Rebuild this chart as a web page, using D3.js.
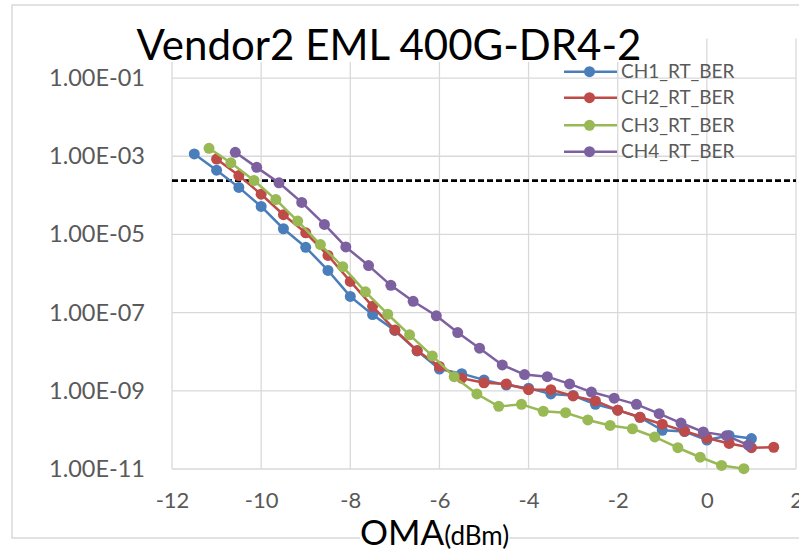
<!DOCTYPE html>
<html>
<head>
<meta charset="utf-8">
<script src="https://cdn.jsdelivr.net/npm/d3@7"></script>
<style>
  html, body { margin: 0; padding: 0; background: #fff; }
  svg { display: block; font-family: Lato, "Open Sans", sans-serif; }
</style>
</head>
<body>
<div id="chart"></div>
<script>
// OMA (dBm) / BER readings per channel
var ch1Oma = [-11.5, -11, -10.5, -10, -9.5, -9, -8.5, -8, -7.5, -7, -6.5, -6, -5.5, -5, -4.5, -4, -3.5, -3, -2.5, -2, -1.5, -1, -0.5, 0, 0.5, 1.0];
var ch1Ber = [1.15e-3, 4.4e-4, 1.6e-4, 5.2e-5, 1.4e-5, 4.7e-6, 1.2e-6, 2.6e-7, 8.9e-8, 3.5e-8, 1.05e-8, 3.6e-9, 2.75e-9, 1.9e-9, 1.4e-9, 1.17e-9, 8.3e-10, 7.6e-10, 4.5e-10, 3.2e-10, 2.1e-10, 9.8e-11, 9.1e-11, 5.5e-11, 7.2e-11, 6.0e-11];

var ch2Oma = [-11, -10.5, -10, -9.5, -9, -8.5, -8, -7.5, -7, -6.5, -6, -5.5, -5, -4.5, -4, -3.5, -3, -2.5, -2, -1.5, -1, -0.5, 0, 0.5, 1.0, 1.5];
var ch2Ber = [8.5e-4, 3.2e-4, 1.07e-4, 3.2e-5, 1.1e-5, 2.9e-6, 6.3e-7, 1.45e-7, 3.6e-8, 1.07e-8, 4.2e-9, 2.1e-9, 1.6e-9, 1.5e-9, 1.07e-9, 1.07e-9, 7.4e-10, 5.5e-10, 3.2e-10, 2.1e-10, 1.4e-10, 9.3e-11, 6.2e-11, 4.5e-11, 3.5e-11, 3.6e-11];

var ch3Oma = [-11.17, -10.68, -10.16, -9.67, -9.18, -8.67, -8.17, -7.66, -7.16, -6.67, -6.16, -5.67, -5.16, -4.67, -4.16, -3.67, -3.17, -2.67, -2.17, -1.67, -1.17, -0.65, -0.15, 0.33, 0.83];
var ch3Ber = [1.6e-3, 6.8e-4, 2.4e-4, 7.8e-5, 2.2e-5, 5.5e-6, 1.5e-6, 3.4e-7, 9.1e-8, 2.7e-8, 7.8e-9, 2.3e-9, 8.3e-10, 4.0e-10, 4.5e-10, 3.0e-10, 2.75e-10, 1.8e-10, 1.3e-10, 1.07e-10, 6.6e-11, 3.5e-11, 2.0e-11, 1.23e-11, 1.02e-11];

var ch4Oma = [-10.58, -10.10, -9.60, -9.09, -8.58, -8.10, -7.59, -7.09, -6.59, -6.07, -5.59, -5.10, -4.59, -4.09, -3.58, -3.08, -2.59, -2.08, -1.58, -1.07, -0.58, -0.08, 0.44, 0.93];
var ch4Ber = [1.26e-3, 5.2e-4, 2.1e-4, 6.6e-5, 1.8e-5, 4.8e-6, 1.6e-6, 5.0e-7, 1.95e-7, 8.3e-8, 3.1e-8, 1.23e-8, 4.6e-9, 2.6e-9, 2.3e-9, 1.5e-9, 9.3e-10, 6.5e-10, 4.5e-10, 2.6e-10, 1.5e-10, 8.9e-11, 7.1e-11, 4.1e-11];

var seriesNames = ['CH1_RT_BER', 'CH2_RT_BER', 'CH3_RT_BER', 'CH4_RT_BER'];
var seriesColors = ['#4a7ebb', '#be4b48', '#98b954', '#7d60a0'];

var xTicks = [-12, -10, -8, -6, -4, -2, 0, 2];
var yTicks = [1e-1, 1e-3, 1e-5, 1e-7, 1e-9, 1e-11];
var fecLimit = 2.4e-4;

var chartTitle = 'Vendor2 EML 400G-DR4-2';

(function () {
  'use strict';

  var width = 799, height = 555;
  var plot = { left: 172, right: 796, top: 38.5, bottom: 469 };

  var svg = d3.select('#chart').append('svg')
      .attr('width', width)
      .attr('height', height);

  var x = d3.scaleLinear().domain([-12, 2]).range([plot.left, plot.right]);
  var y = d3.scaleLog().domain([1e-11, 1]).range([plot.bottom, plot.top + 0.5]);

  // outer chart frame
  svg.append('rect')
      .attr('x', 12).attr('y', 5)
      .attr('width', 820).attr('height', 533)
      .attr('fill', 'none')
      .attr('stroke', '#d9d9d9')
      .attr('stroke-width', 1.5);

  // gridlines
  svg.append('g').selectAll('line').data(yTicks).enter().append('line')
      .attr('x1', plot.left).attr('x2', plot.right)
      .attr('y1', function (d) { return y(d); })
      .attr('y2', function (d) { return y(d); })
      .attr('stroke', '#d9d9d9').attr('stroke-width', 1.3);

  svg.append('g').selectAll('line').data(xTicks).enter().append('line')
      .attr('y1', plot.top).attr('y2', plot.bottom)
      .attr('x1', function (d) { return x(d); })
      .attr('x2', function (d) { return x(d); })
      .attr('stroke', '#d9d9d9').attr('stroke-width', 1.3);

  // FEC threshold
  svg.append('line')
      .attr('x1', plot.left).attr('x2', plot.right)
      .attr('y1', y(fecLimit)).attr('y2', y(fecLimit))
      .attr('stroke', '#000').attr('stroke-width', 2.75)
      .attr('stroke-dasharray', '6,3');

  var series = [
    { oma: ch1Oma, ber: ch1Ber },
    { oma: ch2Oma, ber: ch2Ber },
    { oma: ch3Oma, ber: ch3Ber },
    { oma: ch4Oma, ber: ch4Ber }
  ];

  var line = d3.line()
      .x(function (d) { return x(d[0]); })
      .y(function (d) { return y(d[1]); });

  series.forEach(function (s, i) {
    var pts = d3.zip(s.oma, s.ber);
    var g = svg.append('g');
    g.append('path')
        .datum(pts)
        .attr('d', line)
        .attr('fill', 'none')
        .attr('stroke', seriesColors[i])
        .attr('stroke-width', 2.5)
        .attr('stroke-linejoin', 'round');
    g.selectAll('circle').data(pts).enter().append('circle')
        .attr('cx', function (d) { return x(d[0]); })
        .attr('cy', function (d) { return y(d[1]); })
        .attr('r', 5.5)
        .attr('fill', seriesColors[i]);
  });

  // title with white box behind it
  var title = svg.append('text')
      .attr('x', 389).attr('y', 60)
      .attr('text-anchor', 'middle')
      .attr('font-size', 42)
      .attr('fill', '#000')
      .text(chartTitle);
  var tb = title.node().getBBox();
  svg.insert('rect', function () { return title.node(); })
      .attr('x', tb.x - 3).attr('y', tb.y)
      .attr('width', tb.width + 6).attr('height', 62 - tb.y)
      .attr('fill', '#fff');

  // axes
  function sciFormat(d) {
    var p = d.toExponential(2).toUpperCase().split('E');
    var e = +p[1];
    return p[0] + 'E' + (e < 0 ? '-' : '+') + (Math.abs(e) < 10 ? '0' : '') + Math.abs(e);
  }

  var yAxis = svg.append('g')
      .attr('transform', 'translate(' + 145 + ',0)')
      .call(d3.axisLeft(y).tickValues(yTicks).tickFormat(sciFormat).tickSize(0).tickPadding(0));
  yAxis.select('.domain').remove();
  yAxis.selectAll('text')
      .attr('font-size', 23.5)
      .attr('font-family', 'Lato, "Open Sans", sans-serif')
      .attr('fill', '#595959');

  var xAxis = svg.append('g')
      .attr('transform', 'translate(0,' + plot.bottom + ')')
      .call(d3.axisBottom(x).tickValues(xTicks).tickFormat(function (d) { return String(d); })
        .tickSize(0).tickPadding(0));
  xAxis.select('.domain').remove();
  xAxis.selectAll('text')
      .attr('y', 39)
      .attr('dy', 0)
      .attr('font-size', 22)
      .attr('font-family', 'Lato, "Open Sans", sans-serif')
      .attr('fill', '#595959');

  // x axis title
  var xt = svg.append('text')
      .attr('x', 360).attr('y', 545)
      .attr('fill', '#000');
  xt.append('tspan').attr('font-size', 35).text('OMA');
  xt.append('tspan').attr('font-size', 26).text('(dBm)');
  var xb = xt.node().getBBox();
  svg.insert('rect', function () { return xt.node(); })
      .attr('x', xb.x).attr('y', 533)
      .attr('width', xb.width).attr('height', 10)
      .attr('fill', '#fff');

  // legend
  var legend = svg.append('g').attr('transform', 'translate(564,0)');
  var rowY = [71.7, 97.7, 125.3, 151.7];
  seriesNames.forEach(function (name, i) {
    var row = legend.append('g').attr('transform', 'translate(0,' + rowY[i] + ')');
    row.append('line')
        .attr('x1', 0).attr('x2', 53)
        .attr('stroke', seriesColors[i]).attr('stroke-width', 2.5);
    row.append('circle')
        .attr('cx', 25.5).attr('r', 5.5)
        .attr('fill', seriesColors[i]);
    row.append('text')
        .attr('x', 57).attr('dy', '0.35em')
        .attr('font-size', 19)
        .attr('fill', '#595959')
        .text(name);
  });
})();
</script>
</body>
</html>
